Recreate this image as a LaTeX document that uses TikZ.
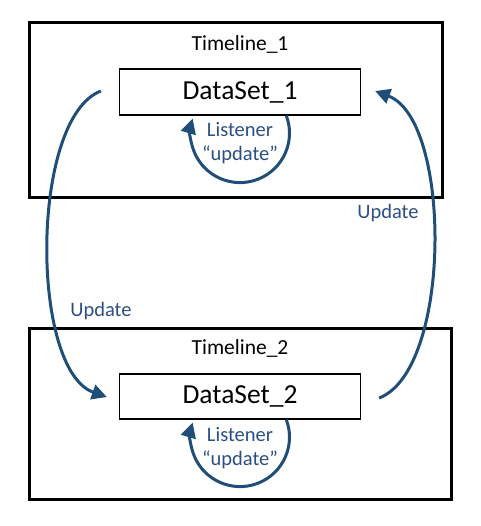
\documentclass[tikz,border=0pt]{standalone}
\usepackage{fontspec}
\setmainfont{Carlito}
\usetikzlibrary{arrows.meta}
\definecolor{arrowblue}{HTML}{1F4E79}
\definecolor{textblue}{HTML}{2B4F80}
\begin{document}
\begin{tikzpicture}[x=1pt,y=-1pt,
  timeline/.style={draw=black,line width=3pt,inner sep=0pt},
  dataset/.style={draw=black,line width=1.2pt,fill=white,minimum width=241pt,minimum height=46pt,inner sep=0pt,font=\fontsize{27.5}{31}\selectfont},
  tlabel/.style={font=\fontsize{21.5}{25}\selectfont},
  bluelabel/.style={text=textblue,font=\fontsize{20.5}{24}\selectfont,align=center,inner sep=0pt},
  flow/.style={draw=arrowblue,line width=3pt,-{Triangle[length=15pt,width=15pt]}}
]
\useasboundingbox (0,0) rectangle (480,526);
% outer boxes
\node[timeline,minimum width=413pt,minimum height=175pt] (tl1) at (235.5,110.5) {};
\node[timeline,minimum width=422pt,minimum height=171pt] (tl2) at (240,413.5) {};
\node[tlabel] (tl1lab) at (240,44) {Timeline\_1};
\node[tlabel] (tl2lab) at (240,348) {Timeline\_2};
% datasets
\node[dataset] (ds1) at (240,92) {DataSet\_1};
\node[dataset,minimum height=45pt] (ds2) at (240,396.5) {DataSet\_2};
% listener loops
\draw[flow] ([xshift=46.3pt]ds1.south) arc[start angle=-20.7,end angle=197,radius=49.5];
\draw[flow] ([xshift=46.3pt]ds2.south) arc[start angle=-20.7,end angle=197,radius=49.5];
\node[bluelabel] (lis1) at (240,143) {Listener\\“update”};
\node[bluelabel] (lis2) at (240,448) {Listener\\“update”};
% update arcs
\draw[flow] ([xshift=-18pt,yshift=1pt]ds1.west) .. controls (30,118) and (30,370) .. ([xshift=-12pt,yshift=-0.5pt]ds2.west);
\draw[flow] ([xshift=18pt,yshift=-1.5pt]ds2.east) .. controls (452,370) and (452,120) .. ([xshift=14pt,yshift=1pt]ds1.east);
\node[bluelabel] (up1) at (388,213) {Update};
\node[bluelabel] (up2) at (101,311) {Update};
\end{tikzpicture}
\end{document}
